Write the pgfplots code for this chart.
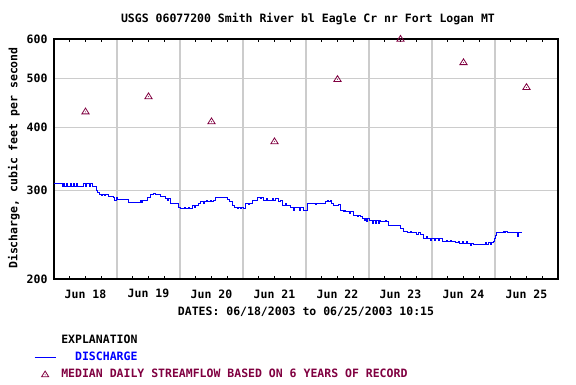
\documentclass[border=0pt]{standalone}
\usepackage{fontspec}
\setmainfont{DejaVu Sans Mono}
\usepackage{pgfplots}
\pgfplotsset{compat=1.18}
\definecolor{medianred}{RGB}{128,0,64}
\definecolor{gridgray}{RGB}{204,204,204}
\pgfdeclareplotmark{tridot}{%
  \pgfpathmoveto{\pgfqpoint{-3.6pt}{-2.6pt}}%
  \pgfpathlineto{\pgfqpoint{3.6pt}{-2.6pt}}%
  \pgfpathlineto{\pgfqpoint{0pt}{3.2pt}}%
  \pgfpathclose
  \pgfusepathqstroke
  \pgfpathcircle{\pgfqpoint{0pt}{-0.6pt}}{0.55pt}%
  \pgfusepathqfill
}
\newcommand{\ff}{\bfseries\fontsize{11.5}{13}\selectfont}
\begin{document}
\begin{tikzpicture}[x=1pt,y=1pt]
\useasboundingbox (0,0) rectangle (576,384);
\begin{axis}[
  at={(54pt,105pt)}, anchor=south west,
  width=504pt, height=240pt, scale only axis,
  xmin=0, xmax=8,
  ymode=log, ymin=200, ymax=600,
  ytick={200,300,400,500,600},
  yticklabels={200,300,400,500,600},
  /pgf/number format/assume math mode=true,
  ymajorgrids,
  ytick style={draw=none},
  yticklabel style={font=\ff, xshift=-3pt},
  xtick={1,2,3,4,5,6,7},
  xticklabels={},
  xmajorgrids,
  xtick style={draw=none},
  minor xtick={0.25,0.5,0.75,1.25,1.5,1.75,2.25,2.5,2.75,3.25,3.5,3.75,4.25,4.5,4.75,5.25,5.5,5.75,6.25,6.5,6.75,7.25,7.5,7.75},
  minor x tick style={draw=black, line width=0.8pt},
  minor tick length=3.5pt,
  tick align=inside,
  extra x ticks={0.5,1.5,2.5,3.5,4.5,5.5,6.5,7.5},
  extra x tick labels={Jun 18,Jun 19,Jun 20,Jun 21,Jun 22,Jun 23,Jun 24,Jun 25},
  extra x tick style={grid=none, major tick length=0pt, xticklabel style={font=\ff, yshift=-7pt}},
  grid style={gridgray, line width=1.1pt},
  axis line style={black, line width=1.4pt},
  clip=false,
  legend style={at={(axis description cs:-0.0397,-0.229)}, anchor=north west,
    draw=none, fill=none, inner sep=0pt, font=\ff, row sep=4.5pt,
    nodes={inner sep=1.2pt},
    /tikz/every odd column/.append style={column sep=4pt}},
  legend cell align=left,
]
\addlegendimage{empty legend}
\addlegendentry{EXPLANATION}
\addplot[blue, line width=0.9pt, const plot mark left,
  legend image code/.code={\draw[blue, line width=0.9pt] (0pt,0pt) -- (21pt,0pt);}]
coordinates {
(0.000,310)(0.127,305)(0.143,310)(0.159,305)(0.198,310)(0.214,305)(0.254,310)(0.270,305)
(0.302,310)(0.317,305)(0.349,310)(0.365,305)(0.460,310)(0.492,305)(0.508,310)(0.556,305)
(0.571,310)(0.603,305)(0.667,300)(0.690,297)(0.714,295)(0.746,293)(0.762,295)(0.794,293)
(0.810,295)(0.857,292)(0.937,290)(0.952,287)(0.984,290)(1.000,288)(1.175,284)(1.206,284)
(1.365,286)(1.381,284)(1.397,286)(1.476,290)(1.524,295)(1.571,296)(1.603,295)(1.683,292)
(1.762,289)(1.794,286)(1.810,289)(1.841,283)(1.968,278)(2.000,276)(2.063,278)(2.079,276)
(2.127,278)(2.143,276)(2.190,280)(2.222,278)(2.238,280)(2.286,283)(2.317,285)(2.365,283)
(2.381,285)(2.413,287)(2.429,285)(2.476,287)(2.492,285)(2.524,287)(2.556,291)(2.746,288)
(2.778,285)(2.825,280)(2.857,278)(2.905,276)(2.921,278)(2.952,276)(2.968,278)(3.000,276)
(3.032,283)(3.079,281)(3.095,283)(3.143,287)(3.222,290)(3.254,291)(3.270,289)(3.286,291)
(3.317,287)(3.365,289)(3.381,287)(3.460,289)(3.476,287)(3.508,289)(3.556,285)(3.587,287)
(3.619,280)(3.667,282)(3.683,280)(3.746,278)(3.794,274)(3.810,278)(3.889,274)(3.905,278)
(3.952,274)(4.016,283)(4.143,281)(4.159,283)(4.302,285)(4.333,287)(4.349,285)(4.381,287)
(4.397,283)(4.429,280)(4.508,281)(4.540,274)(4.587,272)(4.603,274)(4.619,272)(4.683,270)
(4.698,272)(4.746,268)(4.810,266)(4.825,268)(4.857,266)(4.889,264)(4.921,261)(4.937,264)
(4.952,260)(4.968,264)(5.000,261)(5.016,262)(5.048,258)(5.063,262)(5.095,258)(5.111,262)
(5.143,258)(5.159,262)(5.175,260)(5.254,262)(5.270,260)(5.302,256)(5.365,255)(5.381,256)
(5.429,255)(5.492,252)(5.540,249)(5.603,247)(5.651,249)(5.667,247)(5.746,245)(5.778,247)
(5.810,245)(5.857,241)(5.905,243)(5.921,241)(5.968,239)(5.984,241)(6.032,239)(6.048,241)
(6.095,239)(6.111,241)(6.159,237)(6.222,239)(6.238,237)(6.286,239)(6.302,237)(6.365,236)
(6.413,237)(6.429,235)(6.476,237)(6.492,235)(6.540,237)(6.556,235)(6.603,233)(6.619,235)
(6.651,234)(6.841,236)(6.857,234)(6.889,236)(6.921,234)(6.937,236)(6.968,237)(6.984,241)
(7.000,244)(7.016,247)(7.127,249)(7.143,247)(7.159,249)(7.190,247)(7.349,243)(7.365,247)
(7.427,247)
};
\addlegendentry[text=blue]{\ \ DISCHARGE}
\addplot[only marks, mark=tridot, color=medianred,
  mark options={solid, fill=medianred, line width=0.8pt},
  legend image code/.code={\draw[only marks, mark=tridot, color=medianred, mark options={solid, fill=medianred, line width=0.8pt}] plot coordinates {(10.5pt,0pt)};}]
coordinates {
(0.5,431)(1.5,462)(2.5,412)(3.5,376)(4.5,500)(5.5,601)(6.5,540)(7.5,482)
};
\addlegendentry[text=medianred]{MEDIAN DAILY STREAMFLOW BASED ON 6 YEARS OF RECORD}
\end{axis}
\node[font=\ff] at (308,365) {USGS 06077200 Smith River bl Eagle Cr nr Fort Logan MT};
\node[font=\ff] at (306,72) {DATES: 06/18/2003 to 06/25/2003 10:15};
\node[font=\ff, rotate=90] at (14,226) {Discharge, cubic feet per second};
\end{tikzpicture}
\end{document}
